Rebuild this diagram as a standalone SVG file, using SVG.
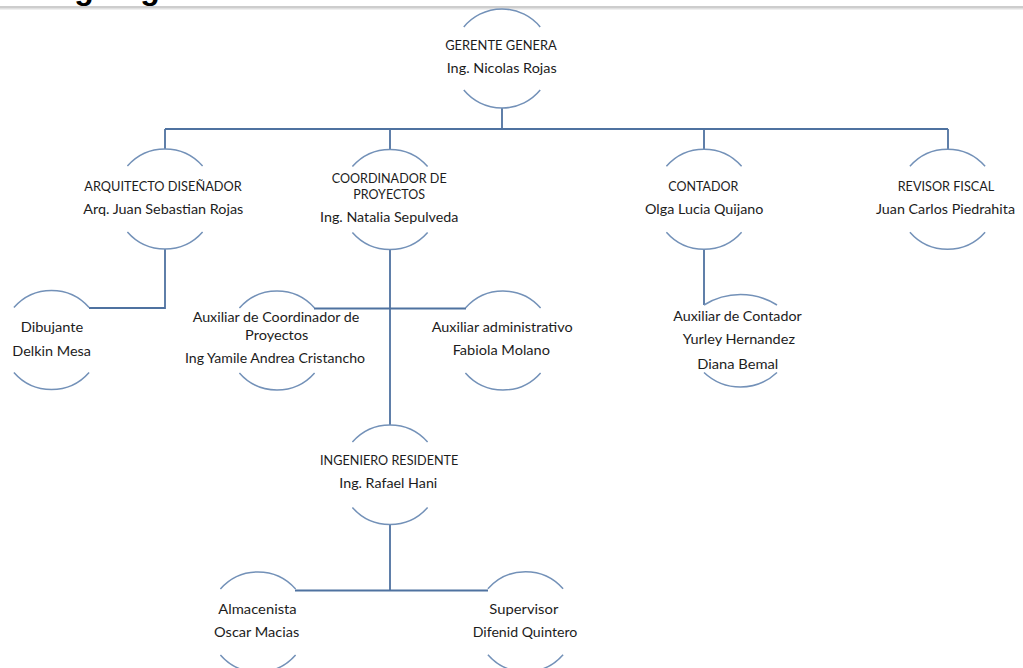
<svg xmlns="http://www.w3.org/2000/svg" width="1023" height="668" viewBox="0 0 1023 668">
<style>
.arc{fill:none;stroke:#7391b8;stroke-width:1.5}
.con{fill:none;stroke:#4f72a0;stroke-width:1.8}
.t{font-family:Lato,"Liberation Sans",sans-serif;font-size:13px;fill:#1c1c1c;text-anchor:middle}
.title{font-family:"Liberation Sans",Arial,sans-serif;font-size:32px;font-weight:bold;fill:#000}
</style>
<rect width="1023" height="668" fill="#fff"/>
<text class="title" x="37" y="-1">Organigrama</text>
<line x1="0" y1="7" x2="1023" y2="7" stroke="#bcbcbc" stroke-width="1.5"/>
<line x1="0" y1="8.7" x2="1023" y2="8.7" stroke="#e0e0e0" stroke-width="1.5"/>

<g id="connectors">
<path class="con" d="M502 108V129M165 129H948M165 129V149M390 129V150M704 129V149M948 129V149"/>
<path class="con" d="M165 249V308H89"/>
<path class="con" d="M390 249.5V425M314 308.5H466"/>
<path class="con" d="M704 249V305"/>
<path class="con" d="M390 524.5V590.5M295 590.5H488"/>
</g>

<g id="n-gerente">
<path class="arc" d="M463.8 27A49.5 49.5 0 0 1 540.2 27M463.8 90A49.5 49.5 0 0 0 540.2 90"/>
<text class="t" x="501" y="50" textLength="111.7" lengthAdjust="spacingAndGlyphs">GERENTE GENERA</text>
<text class="t" x="501.7" y="73.3" textLength="110" lengthAdjust="spacingAndGlyphs">Ing. Nicolas Rojas</text>
</g>

<g id="n-arquitecto">
<path class="arc" d="M127.4 166A50 50 0 0 1 202.6 166M127.4 232A50 50 0 0 0 202.6 232"/>
<text class="t" x="163" y="190.7" textLength="157.4" lengthAdjust="spacingAndGlyphs">ARQUITECTO DISEÑADOR</text>
<text class="t" x="163.3" y="214" textLength="160" lengthAdjust="spacingAndGlyphs">Arq. Juan Sebastian Rojas</text>
</g>

<g id="n-coordinador">
<path class="arc" d="M352.4 166.5A50 50 0 0 1 427.6 166.5M352.4 232.5A50 50 0 0 0 427.6 232.5"/>
<text class="t" x="389.2" y="182.7" textLength="115" lengthAdjust="spacingAndGlyphs">COORDINADOR DE</text>
<text class="t" x="389.2" y="199" textLength="71.7" lengthAdjust="spacingAndGlyphs">PROYECTOS</text>
<text class="t" x="389.2" y="222.3" textLength="138.3" lengthAdjust="spacingAndGlyphs">Ing. Natalia Sepulveda</text>
</g>

<g id="n-contador">
<path class="arc" d="M666.4 166.3A50 50 0 0 1 741.6 166.3M666.4 232.3A50 50 0 0 0 741.6 232.3"/>
<text class="t" x="703.3" y="190.7" textLength="70" lengthAdjust="spacingAndGlyphs">CONTADOR</text>
<text class="t" x="704.2" y="214.3" textLength="118.3" lengthAdjust="spacingAndGlyphs">Olga Lucia Quijano</text>
</g>

<g id="n-revisor">
<path class="arc" d="M909.9 166.3A50 50 0 0 1 985.1 166.3M909.9 232.3A50 50 0 0 0 985.1 232.3"/>
<text class="t" x="946" y="190.7" textLength="96.6" lengthAdjust="spacingAndGlyphs">REVISOR FISCAL</text>
<text class="t" x="945.5" y="214.3" textLength="139" lengthAdjust="spacingAndGlyphs">Juan Carlos Piedrahita</text>
</g>

<g id="n-dibujante">
<path class="arc" d="M13.9 307.5A50 50 0 0 1 89.1 307.5M13.9 372.5A50 50 0 0 0 89.1 372.5"/>
<text class="t" x="52" y="332.3" textLength="62.6" lengthAdjust="spacingAndGlyphs">Dibujante</text>
<text class="t" x="51.7" y="355.7" textLength="78.7" lengthAdjust="spacingAndGlyphs">Delkin Mesa</text>
</g>

<g id="n-aux-coordinador">
<path class="arc" d="M239.4 308A50 50 0 0 1 314.6 308M239.4 373A50 50 0 0 0 314.6 373"/>
<text class="t" x="276" y="322.3" textLength="166.6" lengthAdjust="spacingAndGlyphs">Auxiliar de Coordinador de</text>
<text class="t" x="276.7" y="339.5" textLength="63.3" lengthAdjust="spacingAndGlyphs">Proyectos</text>
<text class="t" x="275" y="363.3" textLength="180" lengthAdjust="spacingAndGlyphs">Ing Yamile Andrea Cristancho</text>
</g>

<g id="n-aux-admin">
<path class="arc" d="M465.4 308A50 50 0 0 1 540.6 308M465.4 373A50 50 0 0 0 540.6 373"/>
<text class="t" x="502.2" y="332.3" textLength="141" lengthAdjust="spacingAndGlyphs">Auxiliar administrativo</text>
<text class="t" x="501.3" y="355" textLength="97.3" lengthAdjust="spacingAndGlyphs">Fabiola Molano</text>
</g>

<g id="n-aux-contador">
<path class="arc" d="M704 305A68.7 68.7 0 0 1 777 305M704 372.5A53.2 53.2 0 0 0 777 372.5"/>
<text class="t" x="737.5" y="321" textLength="128.4" lengthAdjust="spacingAndGlyphs">Auxiliar de Contador</text>
<text class="t" x="738.8" y="344.3" textLength="112.3" lengthAdjust="spacingAndGlyphs">Yurley Hernandez</text>
<text class="t" x="737.8" y="369.3" textLength="81" lengthAdjust="spacingAndGlyphs">Diana Bemal</text>
</g>

<g id="n-ingeniero">
<path class="arc" d="M352.4 442A50 50 0 0 1 427.6 442M352.4 507.5A50 50 0 0 0 427.6 507.5"/>
<text class="t" x="389.2" y="465" textLength="138.3" lengthAdjust="spacingAndGlyphs">INGENIERO RESIDENTE</text>
<text class="t" x="388.3" y="488.3" textLength="98" lengthAdjust="spacingAndGlyphs">Ing. Rafael Hani</text>
</g>

<g id="n-almacenista">
<path class="arc" d="M220.4 589A50 50 0 0 1 295.6 589M220.4 655A50 50 0 0 0 295.6 655"/>
<text class="t" x="257.5" y="614" textLength="78.4" lengthAdjust="spacingAndGlyphs">Almacenista</text>
<text class="t" x="256.7" y="637.3" textLength="85.3" lengthAdjust="spacingAndGlyphs">Oscar Macias</text>
</g>

<g id="n-supervisor">
<path class="arc" d="M487.9 588.7A50 50 0 0 1 563.1 588.7M487.9 654.7A50 50 0 0 0 563.1 654.7"/>
<text class="t" x="523.8" y="614" textLength="69" lengthAdjust="spacingAndGlyphs">Supervisor</text>
<text class="t" x="525" y="637.3" textLength="104.6" lengthAdjust="spacingAndGlyphs">Difenid Quintero</text>
</g>
</svg>
